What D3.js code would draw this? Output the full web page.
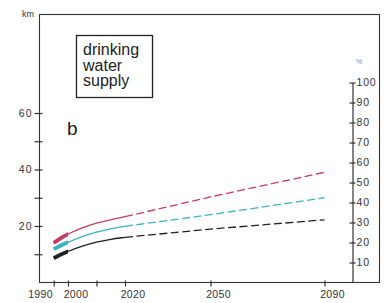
<!DOCTYPE html>
<html>
<head>
<meta charset="utf-8">
<script src="https://cdnjs.cloudflare.com/ajax/libs/d3/7.8.5/d3.min.js"></script>
<style>
  body { margin: 0; background: #fff; }
  svg text { font-family: "Liberation Sans", Arial, sans-serif; fill: #333; }
</style>
</head>
<body>
<div class="chart"></div>
<script>
// chart data
var years = [1995, 1997.5, 2000, 2005, 2010, 2015, 2020, 2050, 2090];
var redKm = [14.0, 15.7, 17.1, 19.3, 21.0, 22.2, 23.3, 30.3, 39.0];
var cyanKm = [11.8, 13.1, 14.2, 16.2, 17.8, 19.0, 19.9, 24.0, 30.0];
var blackKm = [8.6, 9.9, 11.0, 12.9, 14.3, 15.3, 16.0, 18.9, 22.2];

var kmTicks = [10, 20, 30, 40, 50, 60];
var kmLabels = [20, 40, 60];
var pctTicks = [10, 20, 30, 40, 50, 60, 70, 80, 90, 100];
var yearTicks = [1995, 2000, 2010, 2020, 2050, 2090];
var yearLabels = [1990, 2000, 2020, 2050, 2090];
var titleLines = ["drinking", "water", "supply"];

var svgWidth = 387;
var svgHeight = 303;

var svg = d3.select(".chart")
  .append("svg")
  .attr("width", svgWidth)
  .attr("height", svgHeight);

var xScale = d3.scaleLinear().domain([1990, 2090]).range([39.5, 324.5]);
var yScale = d3.scaleLinear().domain([0, 60]).range([282.5, 113]);
var pctScale = d3.scaleLinear().domain([0, 100]).range([282.5, 82.5]);

// frame
svg.append("rect")
  .attr("x", 39.5).attr("y", 14.5)
  .attr("width", 340).attr("height", 268)
  .attr("fill", "none")
  .attr("stroke", "#333")
  .attr("stroke-width", 1.1);

// left km axis
var leftAxis = d3.axisLeft(yScale)
  .tickValues(kmTicks)
  .tickFormat(function(d) { return kmLabels.indexOf(d) >= 0 ? d : ""; });

var gLeft = svg.append("g")
  .attr("transform", "translate(39.5,0)")
  .call(leftAxis);
gLeft.select(".domain").remove();
gLeft.selectAll(".tick line").attr("x1", -5).attr("x2", 3).attr("stroke", "#333").attr("stroke-width", 1.2);
gLeft.selectAll(".tick text").attr("x", -7).style("font-size", "10.5px").style("letter-spacing", "1px");

svg.append("text")
  .attr("x", 34).attr("y", 17)
  .attr("text-anchor", "end")
  .style("font-size", "9px")
  .text("km");

// bottom year axis
var bottomAxis = d3.axisBottom(xScale).tickValues(yearTicks).tickFormat("");
var gBottom = svg.append("g")
  .attr("transform", "translate(0,282.5)")
  .call(bottomAxis);
gBottom.select(".domain").remove();
gBottom.selectAll(".tick line").attr("y1", -2).attr("y2", 4).attr("stroke", "#333").attr("stroke-width", 1.2);

svg.selectAll(".year-label")
  .data(yearLabels)
  .enter().append("text")
  .attr("class", "year-label")
  .attr("x", function(d) { return d === 1990 ? xScale(d) + 1 : xScale(d) + 8; })
  .attr("y", 298)
  .attr("text-anchor", "middle")
  .style("font-size", "10.5px")
  .style("letter-spacing", "0.3px")
  .text(function(d) { return d; });

// right percent axis
var rightAxis = d3.axisRight(pctScale).tickValues(pctTicks).tickSizeOuter(0);
var gRight = svg.append("g")
  .attr("transform", "translate(352.5,0)")
  .call(rightAxis);
gRight.select(".domain").attr("stroke", "#333").attr("stroke-width", 1.2);
gRight.selectAll(".tick line").attr("x1", -3).attr("x2", 3).attr("stroke", "#333").attr("stroke-width", 1.2);
gRight.selectAll(".tick text").attr("x", 4).style("font-size", "10.5px").style("letter-spacing", "0.8px");

svg.append("text")
  .attr("x", 359).attr("y", 64)
  .attr("text-anchor", "middle")
  .style("font-size", "7px")
  .style("fill", "#888")
  .text("%");

// title box
svg.append("rect")
  .attr("x", 76.5).attr("y", 35.5)
  .attr("width", 76).attr("height", 62)
  .attr("fill", "none")
  .attr("stroke", "#222")
  .attr("stroke-width", 1.3);

svg.selectAll(".title-line")
  .data(titleLines)
  .enter().append("text")
  .attr("class", "title-line")
  .attr("x", 83)
  .attr("y", function(d, i) { return 55 + i * 15.5; })
  .style("font-size", "16px")
  .style("fill", "#222")
  .text(function(d) { return d; });

svg.append("text")
  .attr("x", 67).attr("y", 135)
  .style("font-size", "19px")
  .style("fill", "#222")
  .text("b");

// clip regions: thick measured part and thin projected part
var defs = svg.append("defs");
defs.append("clipPath").attr("id", "clip-early")
  .append("rect")
  .attr("x", 0).attr("y", 0)
  .attr("width", xScale(2000)).attr("height", svgHeight);
defs.append("clipPath").attr("id", "clip-mid")
  .append("rect")
  .attr("x", xScale(2000)).attr("y", 0)
  .attr("width", xScale(2020) - xScale(2000)).attr("height", svgHeight);

// series lines
var series = [
  { values: redKm, color: "#c93a62" },
  { values: cyanKm, color: "#37b3c6" },
  { values: blackKm, color: "#222" }
];

var curveLine = d3.line()
  .x(function(d) { return xScale(d.year); })
  .y(function(d) { return yScale(d.km); })
  .curve(d3.curveMonotoneX);

var straightLine = d3.line()
  .x(function(d) { return xScale(d.year); })
  .y(function(d) { return yScale(d.km); });

series.forEach(function(s) {
  var pts = years.map(function(y, i) { return { year: y, km: s.values[i] }; });
  var solid = pts.filter(function(p) { return p.year <= 2050; });
  var late = pts.filter(function(p) { return p.year >= 2020; });

  svg.append("path").datum(solid)
    .attr("d", curveLine)
    .attr("clip-path", "url(#clip-mid)")
    .attr("fill", "none")
    .attr("stroke", s.color)
    .attr("stroke-width", 1.3);

  svg.append("path").datum(late)
    .attr("d", straightLine)
    .attr("fill", "none")
    .attr("stroke", s.color)
    .attr("stroke-width", 1.3)
    .attr("stroke-dasharray", "8,3.5");

  svg.append("path").datum(solid)
    .attr("d", curveLine)
    .attr("clip-path", "url(#clip-early)")
    .attr("fill", "none")
    .attr("stroke", s.color)
    .attr("stroke-width", 3.8);
});
</script>
</body>
</html>
